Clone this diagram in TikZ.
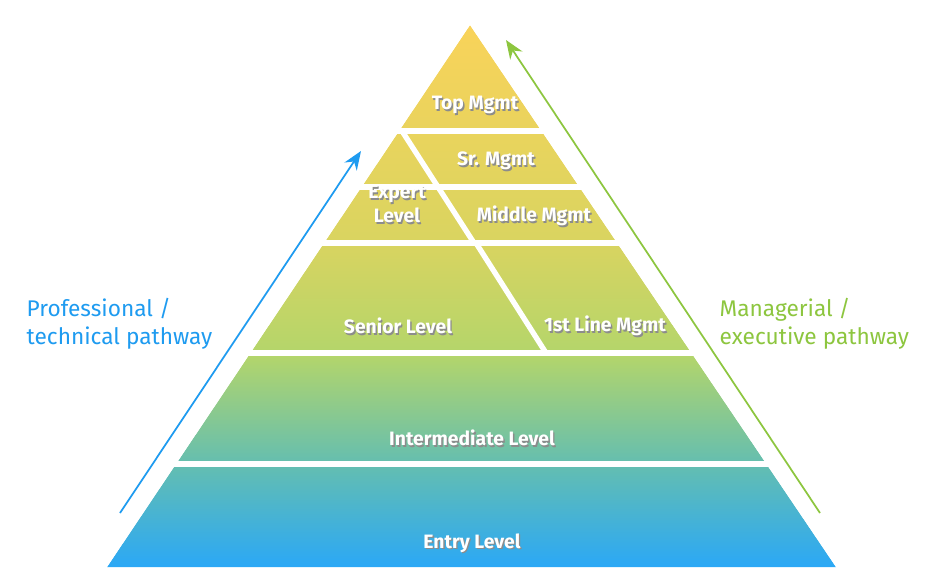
\documentclass[tikz,border=0pt]{standalone}
\usepackage{fontspec}
\setmainfont{Fira Sans}
\usetikzlibrary{arrows.meta,calc}
\definecolor{cB}{HTML}{2BA8F6}
\definecolor{cT}{HTML}{64BEB0}
\definecolor{cG}{HTML}{B3D56B}
\definecolor{cY1}{HTML}{D9D460}
\definecolor{cY}{HTML}{F9D35A}
\definecolor{blueline}{HTML}{1E9BF0}
\definecolor{greenline}{HTML}{8DC63F}
\pgfdeclareverticalshading{pyr}{100bp}{color(0bp)=(cB); color(25bp)=(cB); color(34.5bp)=(cT); color(44.5bp)=(cG); color(55bp)=(cY1); color(75bp)=(cY); color(100bp)=(cY)}
\tikzset{
  lvl/.style={text=white, font=\fontsize{14.5}{18}\selectfont\bfseries, align=center},
  shd/.style={text=black!45, font=\fontsize{14.5}{18}\selectfont\bfseries, align=center},
  gap/.style={white, line width=4pt},
  side/.style={font=\fontsize{17}{21}\selectfont, align=left, anchor=west},
  parrow/.style={line width=1.3pt, -{Stealth[length=14pt,width=11pt]}}
}
\newcommand{\lbl}[3]{\node[shd] at ($(#1,#2)+(1.4,1.6)$) {#3}; \node[lvl] (#1-#2) at (#1,#2) {#3};}
\begin{document}
\begin{tikzpicture}[x=0.75pt,y=-0.75pt]
\useasboundingbox (0,0) rectangle (950,587);
\coordinate (apex) at (470,25);
\coordinate (bl) at (107,567);
\coordinate (br) at (836,567);
\shade[shading=pyr] (apex) -- (bl) -- (br) -- cycle;
\foreach \y in {131,187,243,353,464} \draw[gap] (0,\y) -- (950,\y);
\draw[gap] (402,131) -- (474,243);
\draw[gap] (476,243) -- (546,353);
\fill[white] (0,0) -- (apex) -- (bl) -- (0,587) -- cycle;
\fill[white] (950,0) -- (apex) -- (br) -- (950,587) -- cycle;
\lbl{475}{105}{Top Mgmt}
\lbl{496}{161}{Sr. Mgmt}
\lbl{397}{204}{Expert\\Level}
\lbl{534}{216}{Middle Mgmt}
\lbl{398}{326}{Senior Level}
\lbl{605}{326}{1st Line Mgmt}
\lbl{472}{438}{Intermediate Level}
\lbl{472}{543}{Entry Level}
\coordinate (pa0) at (120,513);
\coordinate (pa1) at (361,151);
\coordinate (ma0) at (820,513);
\coordinate (ma1) at (506,40);
\draw[parrow, blueline] (pa0) -- (pa1);
\draw[parrow, greenline] (ma0) -- (ma1);
\node[side, text=blueline] (prof) at (22,324) {Professional /\\technical pathway};
\node[side, text=greenline] (mgr) at (715,324) {Managerial /\\executive pathway};
\end{tikzpicture}
\end{document}
